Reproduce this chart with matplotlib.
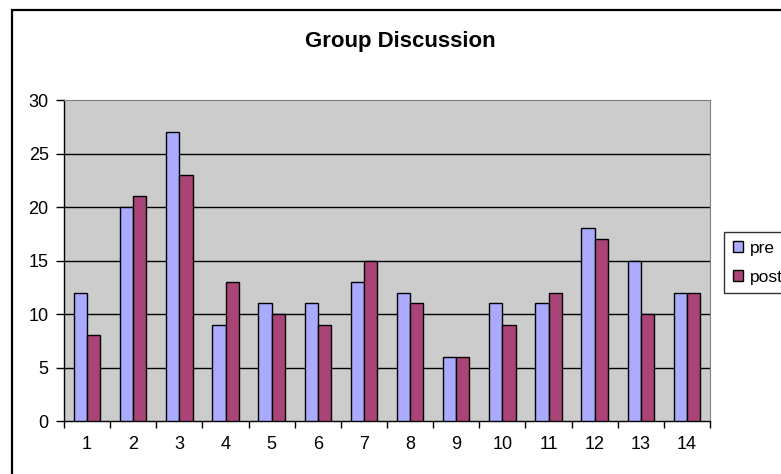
import matplotlib.pyplot as plt
import numpy as np
from matplotlib.patches import Rectangle

plt.rcParams['font.family'] = ['Liberation Sans', 'DejaVu Sans']

groups = ['1', '2', '3', '4', '5', '6', '7', '8', '9', '10', '11', '12', '13', '14']
pre = [12, 20, 27, 9, 11, 11, 13, 12, 6, 11, 11, 18, 15, 12]
post = [8, 21, 23, 13, 10, 9, 15, 11, 6, 9, 12, 17, 10, 12]
yticks = [0, 5, 10, 15, 20, 25, 30]

fig = plt.figure(figsize=(7.81, 4.74), dpi=100)
# chart border, open on the right and bottom like the clipped chart object
fig.patches.append(Rectangle((12 / 781, -0.1), 1.0, 1 - 10 / 474 + 0.1,
                             transform=fig.transFigure, fill=False,
                             edgecolor='black', linewidth=1.6))

ax = fig.add_axes([64 / 781, 1 - 421 / 474, 646 / 781, 321 / 474])
ax.set_facecolor('#cccccc')

x = np.arange(len(groups))
w = 0.285
ax.bar(x - w / 2, pre, w, color='#aaaaff', edgecolor='black', linewidth=1.0,
       label='pre', zorder=3)
ax.bar(x + w / 2, post, w, color='#aa4477', edgecolor='black', linewidth=1.0,
       label='post', zorder=3)

ax.set_xlim(-0.5, len(groups) - 0.5)
ax.set_ylim(0, 30)
ax.set_yticks(yticks)
for yv in yticks[1:-1]:
    ax.axhline(yv, color='black', linewidth=1.0, zorder=1)

ax.set_xticks(x)
ax.set_xticklabels(groups, fontsize=13)
ax.set_xticks(np.arange(len(groups) + 1) - 0.5, minor=True)
ax.tick_params(axis='x', which='major', length=0, pad=11)
ax.tick_params(axis='x', which='minor', length=5, width=1, color='black')
ax.tick_params(axis='y', length=6, width=1, labelsize=13, pad=5)

for side in ('top', 'right'):
    ax.spines[side].set_color('#808080')
for side in ('left', 'bottom'):
    ax.spines[side].set_color('black')
    ax.spines[side].set_linewidth(1.0)

fig.text(0.512, 1 - 41 / 474, 'Group Discussion', ha='center', va='center',
         fontsize=16, fontweight='bold')

leg = ax.legend(loc='upper left', bbox_to_anchor=(724 / 781, 1 - 232 / 474),
                bbox_transform=fig.transFigure, fontsize=12.5, frameon=True,
                fancybox=False, edgecolor='black', handlelength=0.6,
                handleheight=0.6, handletextpad=0.4, borderaxespad=0,
                borderpad=0.5, labelspacing=0.8)
leg.get_frame().set_linewidth(1.0)

fig.savefig('out.png', dpi=100)
